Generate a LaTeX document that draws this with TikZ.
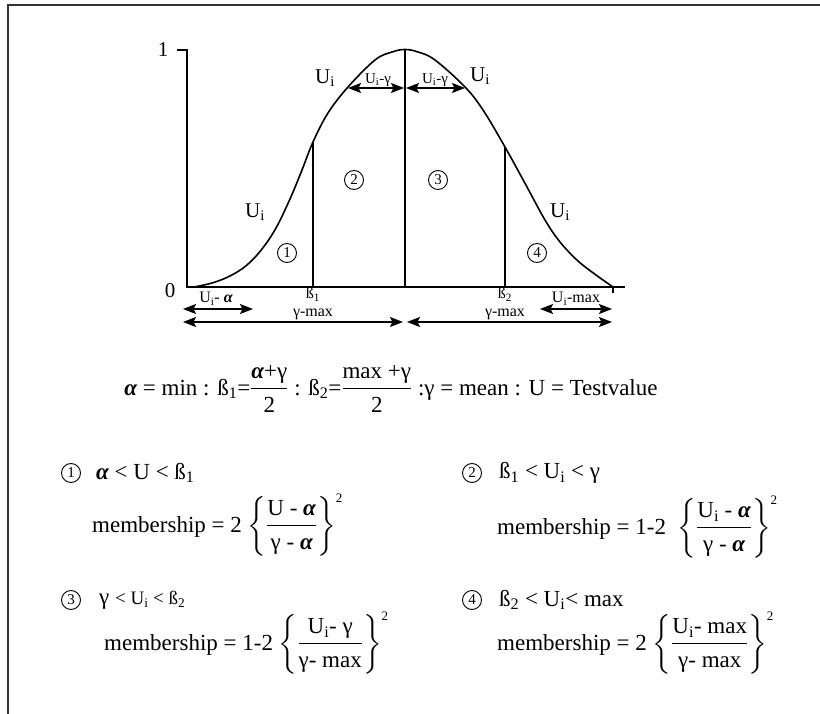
\documentclass[tikz,border=0pt]{standalone}
\usepackage{amsmath}
\usepackage{fontspec}
\setmainfont{Liberation Serif}
\usetikzlibrary{arrows.meta}
\newcommand{\al}{{\bfseries\itshape α}}
\newcommand{\sq}{\mbox{\fontsize{13}{13}\selectfont 2}}
\tikzset{
  frameline/.style={line width=2pt, draw=black!80},
  axisline/.style={line width=1.3pt},
  curveline/.style={line width=1.6pt},
  dimarrow/.style={line width=1.5pt, {Stealth[length=13pt,width=10pt,inset=2.5pt]}-{Stealth[length=13pt,width=10pt,inset=2.5pt]}},
  circnum/.style={circle, draw, line width=0.9pt, minimum size=19pt, inner sep=0pt, font=\fontsize{15}{15}\selectfont},
  biglabel/.style={font=\fontsize{21}{24}\selectfont, inner sep=0pt},
  smalllabel/.style={font=\fontsize{15}{17}\selectfont, inner sep=0pt},
  dimlabel/.style={font=\fontsize{16}{18}\selectfont, inner sep=0pt},
  formula/.style={font=\fontsize{23}{27}\selectfont, inner sep=0pt, anchor=west},
}
\begin{document}
\begin{tikzpicture}[x=1pt,y=-1pt]
\useasboundingbox (0,0) rectangle (820,714);
\draw[frameline] (8,714) -- (8,5) -- (820,5);

% axes
\coordinate (O) at (187,287);
\coordinate (Ytop) at (187,50);
\coordinate (Ytick) at (177,50);
\coordinate (Xend) at (625,287);
\coordinate (Xtick0) at (613,287);
\coordinate (Xtick) at (613,293);
\draw[axisline] (Ytick) -- (Ytop) -- (O) -- (Xend);
\draw[axisline] (Xtick0) -- (Xtick);
\node[biglabel] (one) at (163,50) {1};
\node[biglabel] (zero) at (170,291) {0};

% curve
\draw[curveline] plot[smooth, tension=0.6] coordinates {
 (194,287) (212,283) (230,276) (247,265) (262,249) (276,228) (290,199) (302,170) (313,142)
 (328,113) (348,87) (375,60) (392,52) (405,49.5) (418,52) (435,60)
 (465,87) (483,110) (505,147) (527,187) (545,220) (560,242) (578,261) (596,275) (613,287)};

% vertical lines
\coordinate (b1top) at (313,142);
\coordinate (b1bot) at (313,287);
\coordinate (gtop) at (405,49.5);
\coordinate (gbot) at (405,287);
\coordinate (b2top) at (505,147);
\coordinate (b2bot) at (505,287);
\draw[axisline] (b1top) -- (b1bot);
\draw[axisline] (gtop) -- (gbot);
\draw[axisline] (b2top) -- (b2bot);

% top dimension arrows
\coordinate (lg1) at (348,88);
\coordinate (lg2) at (404,88);
\coordinate (rg1) at (406,88);
\coordinate (rg2) at (465,88);
\draw[dimarrow] (lg1) -- (lg2);
\draw[dimarrow] (rg1) -- (rg2);
\node[smalllabel, anchor=south] (lgl) at (378,87) {U\textsubscript{i}-γ};
\node[smalllabel, anchor=south] (rgl) at (435,87) {U\textsubscript{i}-γ};

% U_i labels
\node[biglabel] (uA) at (325,78) {U\textsubscript{i}};
\node[biglabel] (uB) at (255,212) {U\textsubscript{i}};
\node[biglabel] (uC) at (480,76) {U\textsubscript{i}};
\node[biglabel] (uD) at (560,212) {U\textsubscript{i}};

% region numbers
\node[circnum] (c1) at (287,253) {1};
\node[circnum] (c2) at (354,180) {2};
\node[circnum] (c3) at (438,180) {3};
\node[circnum] (c4) at (537,253) {4};

% bottom dimension arrows
\coordinate (a1) at (183,309);
\coordinate (a2) at (253,309);
\coordinate (m1) at (540,309);
\coordinate (m2) at (612,309);
\coordinate (L1) at (183,322);
\coordinate (L2) at (403,322);
\coordinate (R1) at (407,322);
\coordinate (R2) at (612,322);
\draw[dimarrow] (a1) -- (a2);
\draw[dimarrow] (m1) -- (m2);
\draw[dimarrow] (L1) -- (L2);
\draw[dimarrow] (R1) -- (R2);
\node[dimlabel, anchor=base] (ual) at (216,303) {U\textsubscript{i}- \al};
\node[dimlabel, anchor=base] (umx) at (576,303) {U\textsubscript{i}-max};
\node[dimlabel, anchor=base] (b1l) at (313,299) {ß\textsubscript{1}};
\node[dimlabel, anchor=base] (g1l) at (313,317) {γ-max};
\node[dimlabel, anchor=base] (b2l) at (505,299) {ß\textsubscript{2}};
\node[dimlabel, anchor=base] (g2l) at (505,317) {γ-max};

% definitions
\node[formula, anchor=base] (defs) at (391,395)
 {\al{} = min : ß\textsubscript{1}=$\displaystyle\frac{\mbox{\al+γ}}{\mbox{2}}$ : ß\textsubscript{2}=$\displaystyle\frac{\mbox{max +γ}}{\mbox{2}}$ :γ = mean : U = Testvalue};

% case 1
\node[circnum] (k1) at (71,473) {1};
\node[formula] (k1c) at (96,473) {\al{} < U < ß\textsubscript{1}};
\node[formula] (k1m) at (92,525) {membership = 2 $\left\{\displaystyle\frac{\mbox{U - \al}}{\mbox{γ - \al}}\right\}^{\sq}$};
% case 2
\node[circnum] (k2) at (472,473) {2};
\node[formula] (k2c) at (499,473) {ß\textsubscript{1} < U\textsubscript{i} < γ};
\node[formula] (k2m) at (497,527) {membership = 1-2 \ $\left\{\displaystyle\frac{\mbox{U\textsubscript{i} - \al}}{\mbox{γ - \al}}\right\}^{\sq}$};
% case 3
\node[circnum] (k3) at (71,600) {3};
\node[formula] (k3c) at (99,600) {γ {\fontsize{19}{21}\selectfont < U\textsubscript{i} < ß\textsubscript{2}}};
\node[formula] (k3m) at (104,643) {membership = 1-2 $\left\{\displaystyle\frac{\mbox{U\textsubscript{i}- γ}}{\mbox{γ- max}}\right\}^{\sq}$};
% case 4
\node[circnum] (k4) at (472,600) {4};
\node[formula] (k4c) at (499,600) {ß\textsubscript{2} < U\textsubscript{i}< max};
\node[formula] (k4m) at (497,643) {membership = 2 $\left\{\displaystyle\frac{\mbox{U\textsubscript{i}- max}}{\mbox{γ- max}}\right\}^{\sq}$};
\end{tikzpicture}
\end{document}
